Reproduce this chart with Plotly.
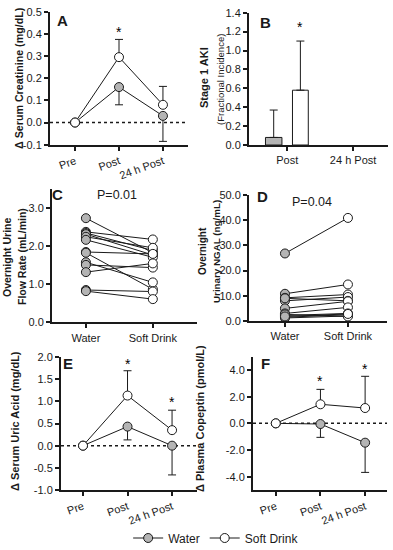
import plotly.graph_objects as go

W, H = 393, 550
FONT = "Arial, Liberation Sans, sans-serif"
GRAY = "#b4b4b4"
INK = "#1a1a1a"

# ---------------- data ----------------
stages = ["Pre", "Post", "24 h Post"]
groups = ["Water", "Soft Drink"]

cr_water = [0.0, 0.16, 0.03]
cr_water_err = [0.0, 0.08, 0.115]
cr_soft = [0.0, 0.295, 0.08]
cr_soft_err = [0.0, 0.08, 0.083]
cr_star = [None, 0.41, None]

aki_cats = ["Post", "24 h Post"]
aki_water = [0.08, 0.0]
aki_water_err = [0.29, None]
aki_soft = [0.58, 0.0]
aki_soft_err = [0.52, None]
aki_star = [1.25, None]

flow_water = [2.74, 2.38, 2.35, 2.32, 2.25, 2.17, 1.85, 1.83, 1.58, 1.51, 1.32, 0.85, 0.82]
flow_soft = [1.83, 2.18, 1.89, 1.77, 1.96, 1.71, 1.80, 0.87, 1.05, 1.44, 1.55, 0.81, 0.61]

ngal_water = [26.8, 10.8, 9.2, 8.0, 9.0, 5.0, 3.0, 2.2, 1.5, 1.2, 2.6, 1.8]
ngal_soft = [40.9, 14.5, 10.5, 9.5, 8.0, 7.8, 5.4, 3.0, 2.5, 2.0, 1.8, 2.8]

ua_water = [0.0, 0.43, 0.0]
ua_water_err = [0.0, 0.30, 0.66]
ua_soft = [0.0, 1.13, 0.35]
ua_soft_err = [0.0, 0.56, 0.45]
ua_star = [None, 1.85, 0.99]

cop_water = [0.0, -0.05, -1.45]
cop_water_err = [0.0, 1.0, 2.23]
cop_soft = [0.0, 1.43, 1.15]
cop_soft_err = [0.0, 1.12, 2.38]
cop_star = [None, 3.2, 4.1]


def xd(a, b):
    return [a / W, b / W]


def yd(top, bot):
    return [1 - bot / H, 1 - top / H]


fig = go.Figure()

panels = {
    1: dict(x=(50, 188), y=(11.7, 144.7), xr=[-0.57, 2.57], yr=[-0.1, 0.5],
            yt=[-0.1, 0.0, 0.1, 0.2, 0.3, 0.4, 0.5], ang=-20),
    2: dict(x=(249, 388), y=(12.7, 145), xr=[-0.58, 1.53], yr=[0, 1.4],
            yt=[0.0, 0.2, 0.4, 0.6, 0.8, 1.0, 1.2, 1.4], ang=0),
    3: dict(x=(52, 197), y=(189.3, 322.3), xr=[-0.507, 1.66], yr=[0, 3.5],
            yt=[0.0, 1.0, 2.0, 3.0], ang=0),
    4: dict(x=(249, 387), y=(195, 321), xr=[-0.571, 1.62], yr=[0, 50],
            yt=[0.0, 10.0, 20.0, 30.0, 40.0, 50.0], ang=0),
    5: dict(x=(61, 197), y=(357, 490), xr=[-0.494, 2.56], yr=[-1, 2],
            yt=[-1.0, -0.5, 0.0, 0.5, 1.0, 1.5, 2.0], ang=-20),
    6: dict(x=(253, 387), y=(356.7, 490), xr=[-0.51, 2.49], yr=[-5, 5],
            yt=[-4.0, -2.0, 0.0, 2.0, 4.0], ang=-20),
}

layout_axes = {}
for i, p in panels.items():
    sx = "" if i == 1 else str(i)
    common = dict(showline=True, linewidth=2, linecolor=INK, showgrid=False,
                  zeroline=False, ticks="outside", ticklen=4, tickwidth=2,
                  tickcolor=INK, automargin=False,
                  tickfont=dict(family=FONT, size=11, color=INK))
    layout_axes["xaxis" + sx] = dict(common, domain=xd(*p["x"]), anchor="y" + sx,
                                     range=p["xr"], type="category",
                                     tickangle=p["ang"])
    layout_axes["yaxis" + sx] = dict(common, domain=yd(*p["y"]), anchor="x" + sx,
                                     range=p["yr"], tickvals=p["yt"],
                                     ticktext=[f"{v:.1f}" for v in p["yt"]])
fig.update_layout(**layout_axes)


def ax(i):
    return ("x", "y") if i == 1 else (f"x{i}", f"y{i}")


def line_panel(i, wv, we, sv, se, star, legend=False):
    xa, ya = ax(i)
    fig.add_shape(type="line", xref=f"{xa} domain", yref=ya, x0=0, x1=1, y0=0, y1=0,
                  line=dict(color=INK, width=1.5, dash="dot"), layer="below")
    fig.add_trace(go.Scatter(
        x=stages, y=wv, mode="lines+markers", name="Water", showlegend=legend,
        xaxis=xa, yaxis=ya, line=dict(color=INK, width=1),
        marker=dict(size=9, color=GRAY, line=dict(color=INK, width=1)),
        error_y=dict(type="data", symmetric=False, array=[0] * len(wv), arrayminus=we,
                     color=INK, thickness=1, width=4)))
    fig.add_trace(go.Scatter(
        x=stages, y=sv, mode="lines+markers", name="Soft Drink", showlegend=legend,
        xaxis=xa, yaxis=ya, line=dict(color=INK, width=1),
        marker=dict(size=9, color="white", line=dict(color=INK, width=1)),
        error_y=dict(type="data", symmetric=False, array=se, arrayminus=[0] * len(sv),
                     color=INK, thickness=1, width=4)))
    for c, s in zip(stages, star):
        if s is not None:
            fig.add_annotation(x=c, y=s, xref=xa, yref=ya, text="*", showarrow=False,
                               font=dict(family=FONT, size=14, color="black"))


line_panel(1, cr_water, cr_water_err, cr_soft, cr_soft_err, cr_star, legend=True)
line_panel(5, ua_water, ua_water_err, ua_soft, ua_soft_err, ua_star)
line_panel(6, cop_water, cop_water_err, cop_soft, cop_soft_err, cop_star)


def err_arr(errs):
    # missing errors -> non-numeric so plotly.js skips the error bar entirely
    return [e if e is not None else "NaN" for e in errs]


def err_minus(errs):
    return [0 if e is not None else "NaN" for e in errs]


# panel B bars (zero-height bars leave no visible mark)
fig.add_trace(go.Bar(x=aki_cats, y=aki_water, xaxis="x2", yaxis="y2", offset=-0.33, width=0.25,
                     marker=dict(color=GRAY, line=dict(color=INK, width=1),
                                 opacity=[1 if v > 0 else 0 for v in aki_water]),
                     showlegend=False,
                     error_y=dict(type="data", symmetric=False, array=err_arr(aki_water_err),
                                  arrayminus=err_minus(aki_water_err), color=INK,
                                  thickness=1, width=4)))
fig.add_trace(go.Bar(x=aki_cats, y=aki_soft, xaxis="x2", yaxis="y2", offset=0.08, width=0.24,
                     marker=dict(color="white", line=dict(color=INK, width=1),
                                 opacity=[1 if v > 0 else 0 for v in aki_soft]),
                     showlegend=False,
                     error_y=dict(type="data", symmetric=False, array=err_arr(aki_soft_err),
                                  arrayminus=err_minus(aki_soft_err), color=INK,
                                  thickness=1, width=4)))
fig.add_annotation(x=0.2, y=aki_star[0], xref="x2", yref="y2", text="*", showarrow=False,
                   font=dict(family=FONT, size=14, color="black"))


def paired_panel(i, wv, sv):
    xa, ya = ax(i)
    xs, ys, cols = [], [], []
    for a, b in zip(wv, sv):
        xs += [groups[0], groups[1], None]
        ys += [a, b, None]
        cols += [GRAY, "white", "white"]
    fig.add_trace(go.Scatter(x=xs, y=ys, mode="lines+markers", xaxis=xa, yaxis=ya,
                             showlegend=False, connectgaps=False,
                             line=dict(color=INK, width=1),
                             marker=dict(size=9, color=cols, line=dict(color=INK, width=1))))


paired_panel(3, flow_water, flow_soft)
paired_panel(4, ngal_water, ngal_soft)


def ann(text, x, y, size=11, bold=True, angle=0):
    fig.add_annotation(x=x / W, y=1 - y / H, xref="paper", yref="paper", text=text,
                       showarrow=False, textangle=angle, xanchor="center", yanchor="middle",
                       font=dict(family=FONT, size=size, color=INK,
                                 weight="bold" if bold else "normal"))


ann("\u0394 Serum Creatinine (mg/dL)", 19, 78, size=10.7, angle=-90)
ann("Stage 1 AKI", 204, 78, size=11, angle=-90)
ann("(Fractional Incidence)", 220, 80, size=9.5, bold=False, angle=-90)
ann("Overnight Urine", 7, 257, size=10.5, angle=-90)
ann("Flow Rate (mL/min)", 22, 257, size=10.5, angle=-90)
ann("Overnight", 203, 251, size=10, angle=-90)
ann("Urinary NGAL (ng/mL)", 216, 252, size=9.8, angle=-90)
ann("\u0394 Serum Uric Acid (mg/dL)", 15, 421, angle=-90)
ann("\u0394 Plasma Copeptin (pmol/L)", 200, 419, angle=-90)

for letter, x, y in [("A", 62, 20), ("B", 265, 22), ("C", 58, 195),
                     ("D", 262, 196), ("E", 68, 363), ("F", 265, 363)]:
    ann(letter, x, y, size=15)
ann("P=0.01", 117, 195, size=12.5, bold=False)
ann("P=0.04", 312, 202, size=12.5, bold=False)

fig.update_layout(
    width=W, height=H, margin=dict(l=0, r=0, t=0, b=0, autoexpand=False),
    paper_bgcolor="white", plot_bgcolor="white",
    barmode="overlay",
    legend=dict(orientation="h", x=0.55, xanchor="center", y=1 - 538 / H, yanchor="middle",
                font=dict(family=FONT, size=12, color=INK), itemwidth=30,
                bgcolor="rgba(0,0,0,0)"),
)

fig.write_html("out.html", config={"displayModeBar": False},
               post_script="document.body.style.margin='0';document.body.style.padding='0';")
